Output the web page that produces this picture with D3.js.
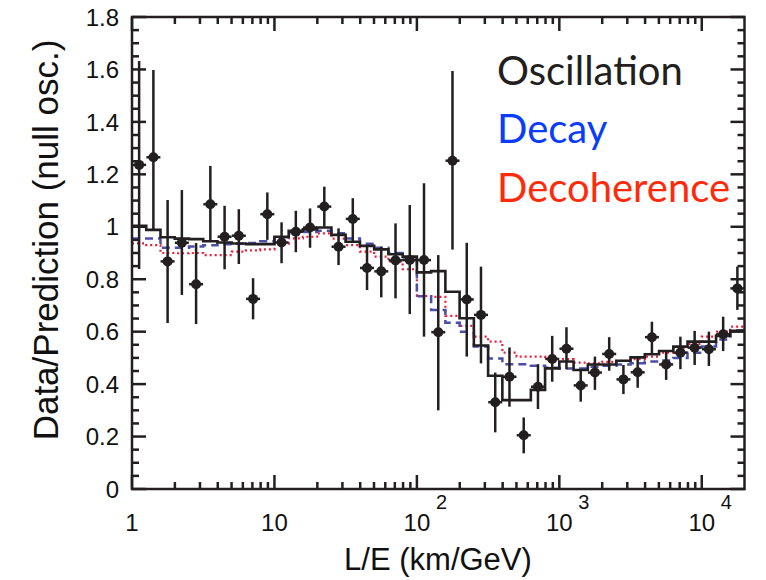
<!DOCTYPE html>
<html><head><meta charset="utf-8">
<script src="https://cdn.jsdelivr.net/npm/d3@7"></script>
<style>html,body{margin:0;padding:0;background:#fff;}svg{display:block;}</style>
</head><body>
<svg id="chart" width="766" height="580"></svg>
<script>
// Bin edges in L/E (km/GeV), log-spaced bins
const binEdges = [1,1.259,1.585,1.995,2.512,3.162,3.981,5.012,6.31,7.943,10,12.59,15.85,19.95,25.12,31.62,39.81,50.12,63.1,79.43,100,125.9,158.5,199.5,251.2,316.2,398.1,501.2,631,794.3,1000,1259,1585,1995,2512,3162,3981,5012,6310,7943,10000,12590,15850,19950];
// Data point positions (bin centres)
const dataLE = [1.122,1.413,1.778,2.239,2.818,3.548,4.467,5.623,7.079,8.913,11.22,14.13,17.78,22.39,28.18,35.48,44.67,56.23,70.79,89.13,112.2,141.3,177.8,223.9,281.8,354.8,446.7,562.3,707.9,891.3,1122,1413,1778,2239,2818,3548,4467,5623,7079,8913,11220,14130,17780];
const dataRatio = [1.236,1.265,0.868,0.939,0.781,1.086,0.962,0.966,0.725,1.048,0.94,0.981,0.997,1.077,0.924,1.03,0.843,0.83,0.872,0.873,0.873,0.598,1.252,0.723,0.664,0.331,0.428,0.205,0.39,0.496,0.535,0.395,0.444,0.515,0.418,0.445,0.579,0.475,0.52,0.539,0.533,0.59,0.765];
const errLow = [0.839,0.99,0.633,0.74,0.629,0.943,0.838,0.858,0.647,0.95,0.861,0.903,0.92,1.0,0.854,0.943,0.759,0.731,0.727,0.667,0.581,0.3,0.913,0.505,0.479,0.216,0.314,0.136,0.305,0.409,0.457,0.333,0.378,0.451,0.362,0.386,0.517,0.416,0.457,0.473,0.469,0.526,0.683];
const errHigh = [1.632,1.598,1.102,1.14,0.938,1.232,1.08,1.067,0.804,1.131,1.017,1.061,1.07,1.153,0.994,1.109,0.924,0.924,1.013,1.083,1.166,0.892,1.594,0.939,0.848,0.444,0.54,0.273,0.476,0.584,0.617,0.454,0.505,0.579,0.473,0.505,0.638,0.53,0.581,0.603,0.6,0.657,0.848];
// Model predictions per bin
const oscillation = [1.004,0.988,0.96,0.955,0.953,0.945,0.94,0.936,0.934,0.934,0.962,0.985,0.99,0.997,0.969,0.943,0.927,0.914,0.895,0.886,0.826,0.831,0.752,0.651,0.547,0.432,0.339,0.339,0.378,0.46,0.486,0.454,0.475,0.475,0.489,0.502,0.514,0.526,0.543,0.562,0.562,0.584,0.603];
const decay = [0.955,0.955,0.92,0.92,0.925,0.93,0.933,0.935,0.938,0.945,0.96,0.975,0.98,0.985,0.975,0.955,0.935,0.92,0.9,0.875,0.735,0.683,0.634,0.6,0.543,0.498,0.476,0.476,0.47,0.462,0.46,0.46,0.466,0.47,0.475,0.48,0.486,0.49,0.5,0.52,0.543,0.57,0.605];
const decoherence = [0.937,0.93,0.9,0.899,0.9,0.892,0.892,0.905,0.91,0.914,0.935,0.956,0.962,0.975,0.955,0.93,0.905,0.886,0.867,0.838,0.736,0.733,0.66,0.622,0.581,0.562,0.52,0.505,0.505,0.495,0.495,0.482,0.479,0.485,0.489,0.495,0.505,0.52,0.537,0.553,0.581,0.6,0.619];
const yTicks = [0,0.2,0.4,0.6,0.8,1,1.2,1.4,1.6,1.8];
const yTickLabels = ["0","0.2","0.4","0.6","0.8","1","1.2","1.4","1.6","1.8"];
const xMajor = [1,10,100,1000,10000];
const xMajorBase = ["1","10","10","10","10"];
const xMajorExp = ["","","2","3","4"];
const legendNames = ["Oscillation","Decay","Decoherence"];

const svg = d3.select("#chart");
const X0 = 132, X1 = 744.5, Y0 = 489, Y1 = 17;
const x = d3.scaleLog().domain([1, 19950]).range([X0, X1]);
const y = d3.scaleLinear().domain([0, 1.8]).range([Y0, Y1]);
const ink = "#231f20";

// Model histograms
function stepData(vals){ const pts = vals.map((v,i)=>[binEdges[i], v]); pts.push([binEdges[vals.length], vals[vals.length-1]]); return pts; }
const line = d3.line().x(d=>x(d[0])).y(d=>y(d[1])).curve(d3.curveStepAfter);
const g = svg.append("g");
g.append("path").attr("d", line(stepData(decoherence))).attr("fill","none").attr("stroke","#ee1c3a").attr("stroke-width",2.2).attr("stroke-dasharray","2,3");
g.append("path").attr("d", line(stepData(decay))).attr("fill","none").attr("stroke","#4a4fa8").attr("stroke-width",2.5).attr("stroke-dasharray","8,5");
g.append("path").attr("d", line(stepData(oscillation))).attr("fill","none").attr("stroke",ink).attr("stroke-width",2.6);

// Data points
const pts = svg.append("g");
dataLE.forEach((le,i)=>{
  const cx = x(le);
  pts.append("line").attr("x1",cx).attr("x2",cx).attr("y1",y(errLow[i])).attr("y2",y(errHigh[i])).attr("stroke",ink).attr("stroke-width",2.5);
  pts.append("line").attr("x1",cx-7).attr("x2",cx+7).attr("y1",y(dataRatio[i])).attr("y2",y(dataRatio[i])).attr("stroke",ink).attr("stroke-width",2.5);
  pts.append("circle").attr("cx",cx).attr("cy",y(dataRatio[i])).attr("r",5).attr("fill",ink);
});

// Frame and ticks
const ax = svg.append("g").attr("stroke",ink).attr("stroke-width",2.5);
ax.append("rect").attr("x",X0).attr("y",Y1).attr("width",X1-X0).attr("height",Y0-Y1).attr("fill","none");
const xMinor = [];
[1,10,100,1000,10000].forEach(d=>{ for(let m=2;m<=9;m++){ const v=d*m; if(v<19950) xMinor.push(v);} });
xMinor.forEach(v=>{
  ax.append("line").attr("x1",x(v)).attr("x2",x(v)).attr("y1",Y0).attr("y2",Y0-7);
  ax.append("line").attr("x1",x(v)).attr("x2",x(v)).attr("y1",Y1).attr("y2",Y1+7);
});
xMajor.forEach(v=>{
  ax.append("line").attr("x1",x(v)).attr("x2",x(v)).attr("y1",Y0).attr("y2",Y0-14);
  ax.append("line").attr("x1",x(v)).attr("x2",x(v)).attr("y1",Y1).attr("y2",Y1+14);
});
d3.range(0,37).map(i=>i*0.05).forEach((v,i)=>{
  const len = (i%4===0)?14:7;
  ax.append("line").attr("x1",X0).attr("x2",X0+len).attr("y1",y(v)).attr("y2",y(v));
  ax.append("line").attr("x1",X1).attr("x2",X1-len).attr("y1",y(v)).attr("y2",y(v));
});

// Tick labels
const lab = svg.append("g").attr("font-family","'Liberation Sans', Arial, sans-serif").attr("fill","#111");
yTicks.forEach((v,i)=>{
  lab.append("text").attr("x",119).attr("y",y(v)).attr("dy","0.36em").attr("text-anchor","end").attr("font-size",24).text(yTickLabels[i]);
});
xMajor.forEach((v,i)=>{
  lab.append("text").attr("x",x(v)).attr("y",531).attr("text-anchor","middle").attr("font-size",24).text(xMajorBase[i]);
  if(xMajorExp[i]) lab.append("text").attr("x",x(v)+19).attr("y",509).attr("font-size",20).text(xMajorExp[i]);
});
lab.append("text").attr("x",438).attr("y",570).attr("text-anchor","middle").attr("font-size",31).text("L/E (km/GeV)");
lab.append("text").attr("transform","translate(58,240) rotate(-90)").attr("text-anchor","middle").attr("font-size",35).text("Data/Prediction (null osc.)");

// Legend
const legColors = [ink,"#0a3cff","#ff2a0a"];
const legY = [85,143,202];
legendNames.forEach((n,i)=>{
  svg.append("text").attr("x",497).attr("y",legY[i]).attr("font-family","Lato, 'Open Sans', sans-serif").attr("font-size",40).attr("fill",legColors[i]).text(n);
});
</script>
</body></html>
